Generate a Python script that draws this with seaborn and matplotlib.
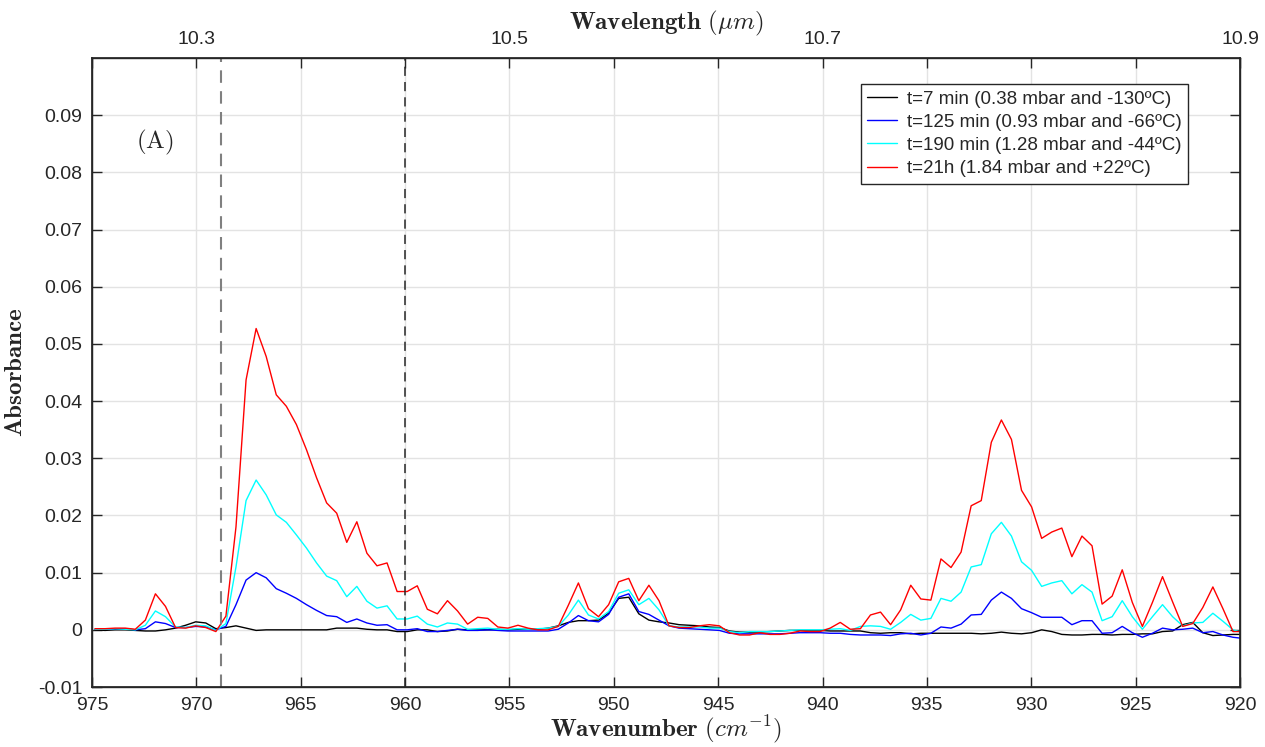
import numpy as np
import pandas as pd
import matplotlib
matplotlib.use('Agg')
import matplotlib.pyplot as plt
import seaborn as sns

# Spectrometer grid (cm^-1): first sample and spacing
first_wavenumber = 974.855
step = 0.4825

abs_7min = [
    0.0000, -0.0001, 0.0000, 0.0000, -0.0001, -0.0002, -0.0002, 0.0000, 0.0003, 0.0008,
    0.0014, 0.0012, 0.0002, 0.0004, 0.0007, 0.0003, -0.0001, 0.0000, 0.0000, 0.0000,
    0.0000, 0.0000, 0.0000, 0.0000, 0.0003, 0.0003, 0.0003, 0.0001, 0.0000, 0.0000,
    -0.0003, -0.0003, 0.0000, 0.0000, -0.0003, -0.0002, 0.0001, 0.0000, 0.0000, 0.0000,
    0.0001, 0.0000, 0.0001, 0.0001, 0.0001, 0.0003, 0.0007, 0.0013, 0.0016, 0.0016,
    0.0017, 0.0029, 0.0055, 0.0057, 0.0028, 0.0017, 0.0014, 0.0012, 0.0009, 0.0008,
    0.0007, 0.0005, 0.0004, -0.0002, -0.0004, -0.0004, -0.0004, -0.0003, -0.0002, -0.0001,
    -0.0001, -0.0001, -0.0001, -0.0002, -0.0002, -0.0002, -0.0002, -0.0005, -0.0006, -0.0005,
    -0.0005, -0.0007, -0.0006, -0.0006, -0.0006, -0.0006, -0.0006, -0.0006, -0.0007, -0.0006,
    -0.0004, -0.0006, -0.0007, -0.0005, 0.0000, -0.0003, -0.0008, -0.0009, -0.0009, -0.0008,
    -0.0008, -0.0009, -0.0008, -0.0008, -0.0007, -0.0007, -0.0003, -0.0002, 0.0009, 0.0013,
    -0.0005, -0.0010, -0.0009, -0.0008, -0.0008,
]
abs_125min = [
    0.0001, 0.0001, 0.0002, 0.0002, 0.0000, 0.0002, 0.0014, 0.0011, 0.0004, 0.0004,
    0.0006, 0.0005, 0.0000, 0.0006, 0.0044, 0.0087, 0.0100, 0.0091, 0.0072, 0.0064,
    0.0055, 0.0044, 0.0034, 0.0025, 0.0023, 0.0013, 0.0019, 0.0012, 0.0008, 0.0009,
    0.0000, 0.0000, 0.0002, -0.0003, -0.0003, -0.0001, 0.0001, -0.0001, -0.0001, 0.0000,
    -0.0001, -0.0002, -0.0002, -0.0002, -0.0002, -0.0002, 0.0001, 0.0012, 0.0025, 0.0016,
    0.0014, 0.0027, 0.0057, 0.0063, 0.0032, 0.0027, 0.0017, 0.0007, 0.0003, 0.0002,
    0.0001, 0.0000, -0.0001, -0.0006, -0.0007, -0.0007, -0.0007, -0.0007, -0.0007, -0.0006,
    -0.0005, -0.0005, -0.0005, -0.0006, -0.0006, -0.0008, -0.0009, -0.0009, -0.0009, -0.0010,
    -0.0007, -0.0006, -0.0009, -0.0006, 0.0005, 0.0003, 0.0010, 0.0026, 0.0027, 0.0052,
    0.0066, 0.0055, 0.0037, 0.0030, 0.0022, 0.0022, 0.0022, 0.0009, 0.0016, 0.0016,
    -0.0006, -0.0005, 0.0006, -0.0005, -0.0013, -0.0006, 0.0003, 0.0000, 0.0001, 0.0003,
    -0.0005, -0.0003, -0.0009, -0.0013, -0.0015,
]
abs_190min = [
    0.0001, 0.0001, 0.0002, 0.0001, 0.0000, 0.0008, 0.0033, 0.0023, 0.0005, 0.0004,
    0.0008, 0.0007, -0.0001, 0.0011, 0.0110, 0.0226, 0.0262, 0.0236, 0.0201, 0.0188,
    0.0166, 0.0143, 0.0117, 0.0094, 0.0086, 0.0058, 0.0076, 0.0050, 0.0038, 0.0042,
    0.0019, 0.0019, 0.0024, 0.0010, 0.0005, 0.0012, 0.0010, 0.0001, 0.0002, 0.0003,
    0.0001, 0.0001, 0.0002, 0.0001, 0.0002, 0.0003, 0.0006, 0.0026, 0.0052, 0.0026,
    0.0019, 0.0032, 0.0064, 0.0070, 0.0044, 0.0055, 0.0035, 0.0007, 0.0005, 0.0005,
    0.0005, 0.0003, 0.0003, -0.0003, -0.0005, -0.0003, -0.0003, -0.0003, -0.0002, -0.0001,
    0.0000, 0.0000, 0.0000, 0.0001, 0.0002, -0.0001, 0.0006, 0.0007, 0.0006, 0.0001,
    0.0013, 0.0027, 0.0017, 0.0020, 0.0055, 0.0050, 0.0066, 0.0110, 0.0114, 0.0168,
    0.0188, 0.0164, 0.0119, 0.0104, 0.0076, 0.0082, 0.0086, 0.0063, 0.0079, 0.0066,
    0.0016, 0.0023, 0.0051, 0.0023, 0.0001, 0.0023, 0.0044, 0.0023, 0.0007, 0.0012,
    0.0013, 0.0029, 0.0015, 0.0000, -0.0005,
]
abs_21h = [
    0.0002, 0.0002, 0.0003, 0.0003, 0.0001, 0.0017, 0.0063, 0.0041, 0.0004, 0.0003,
    0.0007, 0.0004, -0.0003, 0.0024, 0.0180, 0.0437, 0.0527, 0.0478, 0.0411, 0.0391,
    0.0359, 0.0315, 0.0266, 0.0222, 0.0204, 0.0153, 0.0189, 0.0134, 0.0112, 0.0117,
    0.0067, 0.0067, 0.0077, 0.0036, 0.0028, 0.0051, 0.0033, 0.0010, 0.0022, 0.0020,
    0.0005, 0.0003, 0.0008, 0.0003, 0.0000, 0.0000, 0.0006, 0.0043, 0.0082, 0.0037,
    0.0023, 0.0044, 0.0084, 0.0090, 0.0051, 0.0078, 0.0051, 0.0007, 0.0004, 0.0004,
    0.0007, 0.0009, 0.0007, -0.0005, -0.0009, -0.0009, -0.0005, -0.0008, -0.0008, -0.0006,
    -0.0002, -0.0003, -0.0003, 0.0003, 0.0013, 0.0001, 0.0002, 0.0026, 0.0031, 0.0009,
    0.0035, 0.0078, 0.0054, 0.0052, 0.0124, 0.0109, 0.0136, 0.0217, 0.0226, 0.0328,
    0.0367, 0.0333, 0.0244, 0.0215, 0.0160, 0.0171, 0.0178, 0.0128, 0.0164, 0.0147,
    0.0045, 0.0059, 0.0105, 0.0048, 0.0006, 0.0048, 0.0093, 0.0049, 0.0006, 0.0011,
    0.0039, 0.0075, 0.0037, -0.0003, -0.0003,
]

labels = [
    't=7 min (0.38 mbar and -130ºC)',
    't=125 min (0.93 mbar and -66ºC)',
    't=190 min (1.28 mbar and -44ºC)',
    't=21h (1.84 mbar and +22ºC)',
]
colors = ['black', 'blue', 'cyan', 'red']

# top axis: wavelength labels placed at these wavenumbers
top_tick_pos = [970, 955, 940, 920]
top_tick_labels = ['10.3', '10.5', '10.7', '10.9']

y_ticks = [-0.01, 0, 0.01, 0.02, 0.03, 0.04, 0.05, 0.06, 0.07, 0.08, 0.09]
y_tick_labels = ['-0.01', '0', '0.01', '0.02', '0.03', '0.04', '0.05', '0.06', '0.07', '0.08', '0.09']

# band limits marked with dashed lines
band_left = 968.8
band_right = 960.0

# long-format table for seaborn
n = len(abs_21h)
wavenumber = first_wavenumber - step * np.arange(n)
frames = []
for lab, vals in zip(labels, [abs_7min, abs_125min, abs_190min, abs_21h]):
    frames.append(pd.DataFrame({'wavenumber': wavenumber, 'absorbance': vals, 'series': lab}))
df = pd.concat(frames, ignore_index=True)

sns.set_theme(style='whitegrid')
plt.rcParams['font.family'] = ['Liberation Sans', 'DejaVu Sans']
plt.rcParams['mathtext.fontset'] = 'cm'

fig = plt.figure(figsize=(12.65, 7.47), dpi=100)
ax = fig.add_axes([0.0727, 0.0803, 0.9075, 0.842])

sns.lineplot(data=df, x='wavenumber', y='absorbance', hue='series', hue_order=labels,
             palette=dict(zip(labels, colors)), estimator=None, linewidth=1.0, ax=ax)

ax.axvline(band_left, color='#808080', linestyle=(0, (6, 4)), linewidth=1.5)
ax.axvline(band_right, color='#262626', linestyle=(0, (6, 4)), linewidth=1.1)

ax.set_xlim(975, 920)
ax.set_ylim(-0.01, 0.1)
ax.set_xticks(np.arange(975, 919, -5))
ax.set_yticks(y_ticks)
ax.set_yticklabels(y_tick_labels)
ax.grid(True, color='#e3e3e3', linewidth=1.0)
for s in ax.spines.values():
    s.set_color('#262626')
    s.set_linewidth(1.0)
ax.tick_params(axis='both', direction='in', length=7, width=1, color='#262626',
               labelsize=14, pad=7, right=True, left=True, bottom=True, labelcolor='#262626')

ax.set_xlabel(r'$\mathbf{Wavenumber}\ (cm^{-1})$', fontsize=18, labelpad=0)
ax.set_ylabel(r'$\mathbf{Absorbance}$', fontsize=18, labelpad=8)
ax.text(0.055, 0.866, r'$\mathrm{(A)}$', transform=ax.transAxes, fontsize=18,
        ha='center', va='center')

leg = ax.legend(loc='upper right', bbox_to_anchor=(0.9547, 0.9587), fontsize=13.5,
                frameon=True, fancybox=False, edgecolor='#262626', framealpha=1,
                handlelength=1.6, handletextpad=0.5, borderpad=0.35, labelspacing=0.32,
                borderaxespad=0)
leg.get_frame().set_linewidth(1.0)

ax2 = ax.twiny()
ax2.set_xlim(ax.get_xlim())
ax2.set_xticks(top_tick_pos)
ax2.set_xticklabels(top_tick_labels)
ax2.set_xticks(np.arange(975, 919, -5), minor=True)
ax2.grid(False)
ax2.tick_params(axis='x', which='both', direction='in', length=7, width=1, color='#262626',
                labelsize=14, pad=7, labelcolor='#262626')
ax2.set_xlabel(r'$\mathbf{Wavelength}\ (\mu m)$', fontsize=18, labelpad=1)
for s in ax2.spines.values():
    s.set_color('#262626')

fig.savefig('out.png', dpi=100)
